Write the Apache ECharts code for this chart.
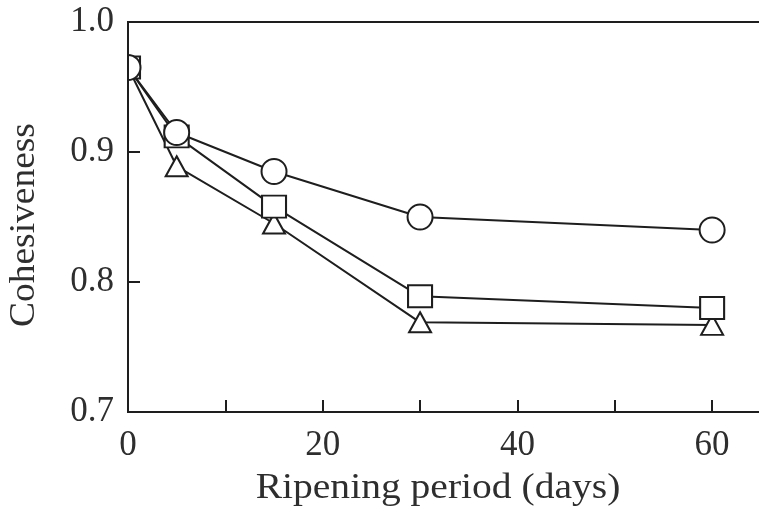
<!DOCTYPE html>
<html>
<head>
<meta charset="utf-8">
<script src="https://cdn.jsdelivr.net/npm/echarts@6/dist/echarts.min.js"></script>
<style>
  html, body { margin: 0; padding: 0; background: #fff; }
  #chart { width: 759px; height: 521px; }
</style>
</head>
<body>
<div id="chart"></div>
<script>
// Ripening period in days
const days = [0, 5, 15, 30, 60];
// Cohesiveness for the three samples
const circleValues = [0.965, 0.915, 0.885, 0.850, 0.840];
const squareValues = [0.965, 0.912, 0.858, 0.789, 0.780];
const triangleValues = [0.965, 0.889, 0.845, 0.769, 0.767];
// Axis labels
const xLabels = [0, 20, 40, 60];
const yLabels = [0.7, 0.8, 0.9, 1.0];
const xTitle = 'Ripening period (days)';
const yTitle = 'Cohesiveness';

const ink = '#1e1e1e';
const textInk = '#2e2e2e';
const serif = '"Liberation Serif", "DejaVu Serif", serif';

function pairs(xs, ys) {
  return xs.map((x, i) => [x, ys[i]]);
}

function seriesOf(name, values, symbol, size) {
  return {
    name: name,
    type: 'line',
    data: pairs(days, values),
    symbol: symbol,
    symbolSize: size,
    showAllSymbol: true,
    clip: false,
    lineStyle: { color: ink, width: 2 },
    itemStyle: { color: '#fff', borderColor: ink, borderWidth: 2 },
    emphasis: { disabled: true },
    animation: false
  };
}

const chart = echarts.init(document.getElementById('chart'), null, { renderer: 'canvas' });
chart.setOption({
  backgroundColor: '#fff',
  animation: false,
  grid: {
    left: 128, top: 22, width: 662, height: 390,
    outerBoundsMode: 'none',
    containLabel: false,
    show: true, borderColor: ink, borderWidth: 2, backgroundColor: 'transparent'
  },
  xAxis: {
    type: 'value', min: 0, max: 68, interval: 10,
    z: 20,
    axisLine: { show: true, lineStyle: { color: ink, width: 2 } },
    axisTick: { show: true, inside: true, length: 12, lineStyle: { color: ink, width: 2 } },
    splitLine: { show: false },
    axisLabel: {
      margin: 16, fontSize: 35, fontFamily: serif, color: textInk,
      formatter: v => (xLabels.indexOf(v) >= 0 ? String(v) : '')
    }
  },
  yAxis: {
    type: 'value', min: 0.7, max: 1.0, interval: 0.1,
    z: 20,
    axisLine: { show: true, lineStyle: { color: ink, width: 2 } },
    axisTick: { show: true, inside: true, length: 12, lineStyle: { color: ink, width: 2 } },
    splitLine: { show: false },
    axisLabel: {
      margin: 14, fontSize: 35, fontFamily: serif, color: textInk,
      formatter: v => {
        const hit = yLabels.find(t => Math.abs(t - v) < 1e-6);
        return hit === undefined ? '' : hit.toFixed(1);
      }
    }
  },
  graphic: [
    // mask the part of the first marker that falls left of the frame
    { type: 'rect', z: 15, shape: { x: 113, y: 45, width: 14, height: 45 }, style: { fill: '#fff' } },
    {
      type: 'text', z: 30, x: 438, y: 489, scaleX: 1.13,
      style: { text: xTitle, font: '35px ' + serif, fill: textInk, textAlign: 'center', textVerticalAlign: 'middle' }
    },
    {
      type: 'text', z: 30, x: 25, y: 225, rotation: Math.PI / 2, scaleX: 1.07,
      style: { text: yTitle, font: '35px ' + serif, fill: textInk, textAlign: 'center', textVerticalAlign: 'middle' }
    }
  ],
  series: [
    seriesOf('triangle', triangleValues, 'triangle', [22, 20]),
    seriesOf('square', squareValues, 'rect', [24, 22]),
    seriesOf('circle', circleValues, 'circle', 25)
  ]
});
</script>
</body>
</html>
